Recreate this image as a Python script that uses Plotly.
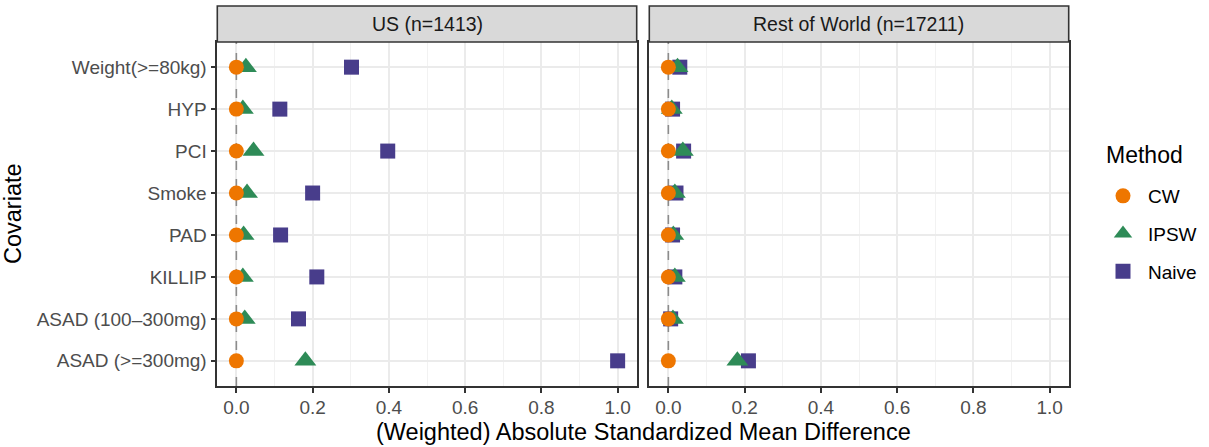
import plotly.graph_objects as go

# Covariates, listed top to bottom as displayed
covariates = ["Weight(>=80kg)", "HYP", "PCI", "Smoke", "PAD", "KILLIP",
              "ASAD (100\u2013300mg)", "ASAD (>=300mg)"]

panels = ["US (n=1413)", "Rest of World (n=17211)"]
methods = ["CW", "IPSW", "Naive"]

# Absolute standardized mean differences per method, per region
cw_us = [0.0, 0.0, 0.0, 0.0, 0.0, 0.0, 0.0, 0.0]
ipsw_us = [0.025, 0.017, 0.045, 0.028, 0.019, 0.017, 0.022, 0.181]
naive_us = [0.302, 0.114, 0.397, 0.200, 0.116, 0.211, 0.163, 1.000]

cw_row = [0.0, 0.0, 0.0, 0.0, 0.0, 0.0, 0.0, 0.0]
ipsw_row = [0.024, 0.009, 0.038, 0.017, 0.013, 0.017, 0.012, 0.181]
naive_row = [0.030, 0.011, 0.040, 0.020, 0.011, 0.017, 0.006, 0.210]

x_ticks = [0.0, 0.2, 0.4, 0.6, 0.8, 1.0]

values = {
    panels[0]: {"CW": cw_us, "IPSW": ipsw_us, "Naive": naive_us},
    panels[1]: {"CW": cw_row, "IPSW": ipsw_row, "Naive": naive_row},
}

colors = {"CW": "#EE7600", "IPSW": "#2E8B57", "Naive": "#483D8B"}
symbols = {"CW": "circle", "IPSW": "triangle-up", "Naive": "square"}
sizes = {"CW": 15, "IPSW": 19, "Naive": 15}
ranks = {m: i + 1 for i, m in enumerate(methods)}

W, H = 1209, 447
x_domains = [[217.3 / W, 636.7 / W], [649.3 / W, 1068.7 / W]]
y_domain = [1 - 386 / H, 1 - 42 / H]
strip = [1 - 42 / H, 1 - 6 / H]
y_range = [-0.6, len(covariates) - 0.4]

FONT = "Liberation Sans, Arial, sans-serif"
fig = go.Figure()

# Naive first, CW last, so circles sit on top
draw_order = ["Naive", "IPSW", "CW"]
for i, panel in enumerate(panels):
    xa = "x" if i == 0 else "x2"
    ya = "y" if i == 0 else "y2"
    for m in draw_order:
        fig.add_trace(go.Scatter(
            x=values[panel][m], y=covariates, mode="markers",
            name=m, legendgroup=m, showlegend=(i == 0), legendrank=ranks[m],
            marker=dict(symbol=symbols[m], size=sizes[m], color=colors[m],
                        line=dict(width=0)),
            xaxis=xa, yaxis=ya, cliponaxis=False,
        ))

axis_common = dict(
    range=[-0.05, 1.05], tickvals=x_ticks,
    ticktext=[f"{v:.1f}" for v in x_ticks],
    ticks="outside", ticklen=5, tickwidth=1.5, tickcolor="#333333",
    tickfont=dict(family=FONT, size=19, color="#4D4D4D"),
    ticklabelstandoff=-2,
    showgrid=True, gridcolor="#EBEBEB", gridwidth=1.6,
    minor=dict(dtick=0.1, tick0=0, showgrid=True, gridcolor="#F2F2F2",
               gridwidth=0.9, ticks=""),
    showline=True, linecolor="#333333", linewidth=1.6, mirror=True,
    zeroline=False, fixedrange=True,
)
cat_order = list(reversed(covariates))
yaxis_common = dict(
    type="category", categoryorder="array", categoryarray=cat_order,
    range=y_range, domain=y_domain,
    showgrid=True, gridcolor="#EBEBEB", gridwidth=1.6,
    showline=True, linecolor="#333333", linewidth=1.6, mirror=True,
    zeroline=False, fixedrange=True,
)

fig.update_layout(
    xaxis=dict(domain=x_domains[0], anchor="y", **axis_common),
    xaxis2=dict(domain=x_domains[1], anchor="y2", **axis_common),
    yaxis=dict(anchor="x", ticks="outside", ticklen=5, tickwidth=1.5,
               tickcolor="#333333",
               tickfont=dict(family=FONT, size=19, color="#4D4D4D"),
               **yaxis_common),
    yaxis2=dict(anchor="x2", showticklabels=False, ticks="", **yaxis_common),
)

shapes = []
for i, panel in enumerate(panels):
    xd = x_domains[i]
    # facet strip
    shapes.append(dict(type="rect", xref="paper", yref="paper",
                       x0=xd[0], x1=xd[1], y0=strip[0], y1=strip[1],
                       fillcolor="#D9D9D9",
                       line=dict(color="#333333", width=1.6), layer="above"))
for i, panel in enumerate(panels):
    # reference line at zero, spanning the full panel height
    xr = "x" if i == 0 else "x2"
    yr = "y" if i == 0 else "y2"
    shapes.append(dict(type="line", xref=xr, yref=yr, x0=0, x1=0,
                       y0=y_range[0], y1=y_range[1],
                       line=dict(color="#8C8C8C", width=1.6, dash="dash"),
                       layer="between"))
fig.update_layout(shapes=shapes)

annotations = []
for i, panel in enumerate(panels):
    xd = x_domains[i]
    annotations.append(dict(text=panel, xref="paper", yref="paper",
                            x=(xd[0] + xd[1]) / 2, y=(strip[0] + strip[1]) / 2,
                            xanchor="center", yanchor="middle", showarrow=False,
                            font=dict(family=FONT, size=19.5, color="#1A1A1A")))
annotations.append(dict(text="(Weighted) Absolute Standardized Mean Difference",
                        xref="paper", yref="paper",
                        x=(x_domains[0][0] + x_domains[1][1]) / 2,
                        y=1 - 432 / H, xanchor="center", yanchor="middle",
                        showarrow=False,
                        font=dict(family=FONT, size=23.5, color="#000000")))
annotations.append(dict(text="Covariate", xref="paper", yref="paper",
                        x=13 / W, y=(y_domain[0] + y_domain[1]) / 2,
                        xanchor="center", yanchor="middle", textangle=-90,
                        showarrow=False,
                        font=dict(family=FONT, size=23.5, color="#000000")))
# legend heading
annotations.append(dict(text="Method", xref="paper", yref="paper",
                        x=1104 / W, y=1 - 155 / H, xanchor="left",
                        yanchor="middle", showarrow=False,
                        font=dict(family=FONT, size=23, color="#000000")))
fig.update_layout(annotations=annotations)

fig.update_layout(
    width=W, height=H, margin=dict(l=0, r=0, t=0, b=0),
    paper_bgcolor="white", plot_bgcolor="white",
    legend=dict(
        font=dict(family=FONT, size=19, color="#000000"),
        traceorder="grouped", tracegroupgap=10,
        x=1098 / W, y=1 - 177 / H, xanchor="left", yanchor="top",
        bgcolor="rgba(0,0,0,0)", itemwidth=40,
    ),
)

fig.write_html("out.html")
